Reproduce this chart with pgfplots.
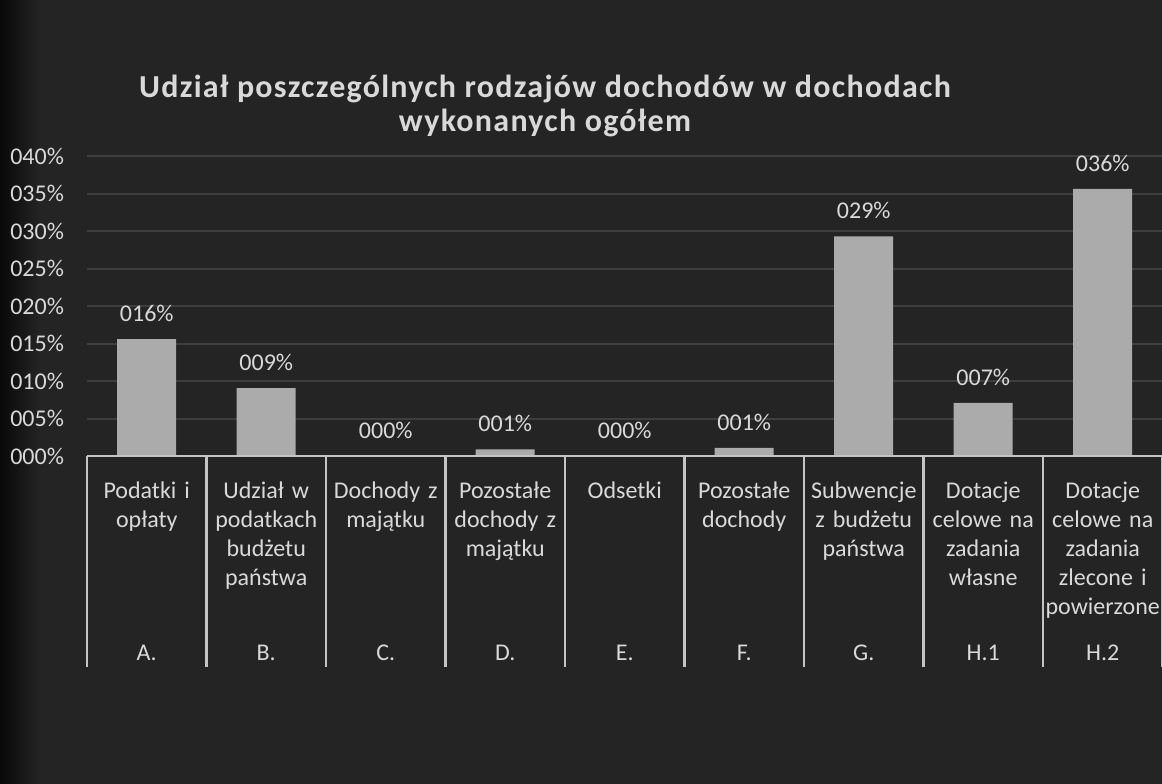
\documentclass[border=0pt]{standalone}
\usepackage{pgfplots}
\pgfplotsset{compat=1.18}
\usepackage{fontspec}
\setmainfont{Carlito}
\newfontfamily\titlefont[LetterSpace=4]{Carlito}
\definecolor{bg}{HTML}{242424}
\definecolor{txt}{HTML}{D9D9D9}
\definecolor{barc}{HTML}{ABABAB}
\definecolor{gridc}{HTML}{3E3E3E}
\definecolor{axc}{HTML}{C4C4C4}
\begin{document}
\begin{tikzpicture}[x=0.5pt,y=0.5pt]
\fill[bg] (-5,-5) rectangle (1167,788);
\shade[left color=black!85!bg, right color=bg] (-5,-5) rectangle (40,788);
\node[font=\titlefont\bfseries\fontsize{16}{17}\selectfont, text=txt, align=center] at (545,677) {Udział poszczególnych rodzajów dochodów w dochodach\\wykonanych ogółem};
\begin{axis}[
  at={(43.5pt,163.5pt)}, anchor=south west,
  scale only axis, width=537.75pt, height=150pt,
  xmin=-0.5, xmax=8.5, ymin=0, ymax=40,
  enlargelimits=false, clip=false,
  axis line style={draw=none},
  tick style={draw=none},
  ymajorgrids, grid style={gridc, line width=1pt},
  ytick={0,5,...,40},
  yticklabels={000\%,005\%,010\%,015\%,020\%,025\%,030\%,035\%,040\%},
  yticklabel style={anchor=east, xshift=-8pt},
  ticklabel style={font=\fontsize{12}{14.5}\selectfont, text=txt},
  xtick={0,...,8},
  xticklabels={{Podatki i\\opłaty},{Udział w\\podatkach\\budżetu\\państwa},{Dochody z\\majątku},{Pozostałe\\dochody z\\majątku},{Odsetki},{Pozostałe\\dochody},{Subwencje\\z budżetu\\państwa},{Dotacje\\celowe na\\zadania\\własne},{Dotacje\\celowe na\\zadania\\zlecone i\\powierzone}},
  xticklabel style={align=center, anchor=north, yshift=-9.5pt, text width=58pt},
]
\addplot[ybar, bar width=29.5pt, fill=barc, draw=none,
  nodes near coords, point meta=explicit symbolic,
  nodes near coords style={font=\fontsize{12}{14.5}\selectfont, text=txt, anchor=south, yshift=5pt}]
  coordinates {(0,15.6)[016\%] (1,9.05)[009\%] (2,0)[000\%] (3,0.9)[001\%] (4,0)[000\%] (5,1.1)[001\%] (6,29.3)[029\%] (7,7.07)[007\%] (8,35.6)[036\%]};
\draw[axc, line width=1.2pt] (axis cs:-0.5,0) -- (axis cs:8.5,0);
\pgfplotsinvokeforeach{-0.5,0.5,1.5,2.5,3.5,4.5,5.5,6.5,7.5,8.5}{
  \draw[axc, line width=1.2pt] (axis cs:#1,0) -- (axis cs:#1,-28.1);
}
\node[font=\fontsize{12}{14.5}\selectfont, text=txt, anchor=base] at (axis cs:0,-27.3) {A.};
\node[font=\fontsize{12}{14.5}\selectfont, text=txt, anchor=base] at (axis cs:1,-27.3) {B.};
\node[font=\fontsize{12}{14.5}\selectfont, text=txt, anchor=base] at (axis cs:2,-27.3) {C.};
\node[font=\fontsize{12}{14.5}\selectfont, text=txt, anchor=base] at (axis cs:3,-27.3) {D.};
\node[font=\fontsize{12}{14.5}\selectfont, text=txt, anchor=base] at (axis cs:4,-27.3) {E.};
\node[font=\fontsize{12}{14.5}\selectfont, text=txt, anchor=base] at (axis cs:5,-27.3) {F.};
\node[font=\fontsize{12}{14.5}\selectfont, text=txt, anchor=base] at (axis cs:6,-27.3) {G.};
\node[font=\fontsize{12}{14.5}\selectfont, text=txt, anchor=base] at (axis cs:7,-27.3) {H.1};
\node[font=\fontsize{12}{14.5}\selectfont, text=txt, anchor=base] at (axis cs:8,-27.3) {H.2};
\end{axis}
\pgfresetboundingbox
\path[use as bounding box] (0,0) rectangle (1162,783);
\end{tikzpicture}
\end{document}
